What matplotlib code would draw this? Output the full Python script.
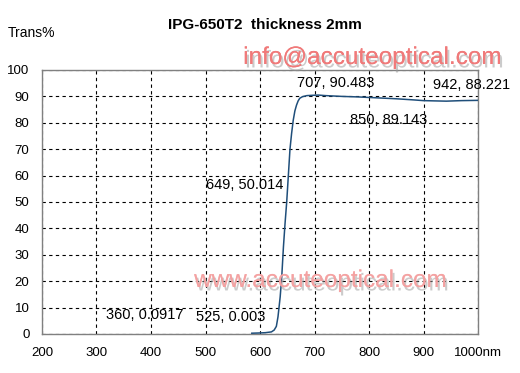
import numpy as np
import matplotlib.pyplot as plt
import matplotlib.patheffects as pe

plt.rcParams['font.family'] = ['Liberation Sans', 'DejaVu Sans']

# transmission curve
wl = np.array([585, 600, 610, 621, 626, 630, 633, 637, 640, 643, 646, 649, 652, 655,
               658, 661, 664, 667, 670, 673, 678, 686, 695, 707, 720, 750, 780,
               800, 820, 850, 880, 900, 920, 942, 970, 1000])
trans = np.array([0.3, 0.4, 0.5, 0.8, 1.5, 2.9, 6.5, 14.0, 22.0, 33.0, 42.0, 50.0, 60.0, 70.0,
                  76.0, 81.0, 84.5, 86.7, 88.3, 89.3, 89.9, 90.3, 90.4, 90.5, 90.3, 90.0, 89.8,
                  89.6, 89.4, 89.1, 88.7, 88.4, 88.3, 88.2, 88.4, 88.5])

labels = ["707, 90.483", "942, 88.221", "850, 89.143", "649, 50.014",
          "360, 0.0917", "525, 0.003"]
label_xy = [(739, 95.1), (988, 94.3), (836, 81.1), (571, 56.4),
            (388, 7.2), (547, 6.4)]

xticks = np.arange(200, 1001, 100)
yticks = np.arange(0, 101, 10)

fig = plt.figure(figsize=(5.2, 3.73), dpi=100)
ax = fig.add_axes([42/520, 39/373, 436/520, 264/373])

ax.plot(wl, trans, color='#1f4e7a', lw=1.1, zorder=3)
ax.set_xlim(200, 1000)
ax.set_ylim(0, 100)
ax.set_xticks(xticks)
ax.set_yticks(yticks)
xlabs = [str(t) for t in xticks]
xlabs[-1] = "1000nm"
ax.set_xticklabels(xlabs)
ax.tick_params(length=0, labelsize=9.5, pad=9)
ax.grid(True, color='black', ls=(0, (3, 3)), lw=0.8)
for s in ax.spines.values():
    s.set_color('#808080')
    s.set_linewidth(1.0)

for t, (x, y) in zip(labels, label_xy):
    ax.text(x, y, t, ha='center', va='center', fontsize=10.5, zorder=4, clip_on=False)

fig.text(265/520, 1 - 25/373, "IPG-650T2  thickness 2mm", ha='center', va='center',
         fontsize=11, fontweight='bold')
fig.text(8/520, 1 - 33/373, "Trans%", ha='left', va='center', fontsize=10)

shadow = [pe.withSimplePatchShadow(offset=(1.5, -2.5), shadow_rgbFace='#999999', alpha=0.5),
          pe.Normal()]
fig.text(372/520, 1 - 58/373, "info@accuteoptical.com", ha='center', va='center',
         fontsize=17.5, color='#f07a7a', path_effects=shadow)
fig.text(320/520, 1 - 281/373, "www.accuteoptical.com", ha='center', va='center',
         fontsize=17.5, color='#f4a0a0', alpha=0.85, path_effects=shadow)

fig.savefig('out.png', dpi=100)
